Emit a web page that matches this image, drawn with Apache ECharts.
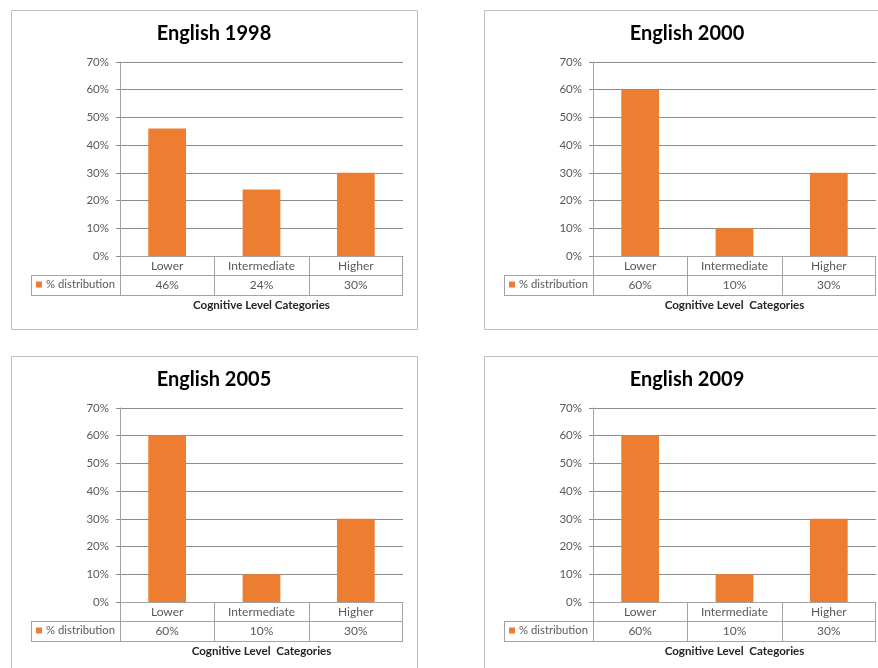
<!DOCTYPE html>
<html>
<head>
<meta charset="utf-8">
<script src="https://cdn.jsdelivr.net/npm/echarts@6/dist/echarts.min.js"></script>
<style>
  html, body { margin: 0; padding: 0; background: #ffffff; overflow: hidden; }
  #chart { width: 878px; height: 668px; }
</style>
</head>
<body>
<div id="chart"></div>
<script>
// ---- data ----
const categories = ['Lower', 'Intermediate', 'Higher'];
const panelTitles = ['English 1998', 'English 2000', 'English 2005', 'English 2009'];
const axisTitles = [
  'Cognitive Level Categories',
  'Cognitive Level  Categories',
  'Cognitive Level  Categories',
  'Cognitive Level  Categories'
];
const seriesName = '% distribution';
const english1998 = [0.46, 0.24, 0.30];
const english2000 = [0.60, 0.10, 0.30];
const english2005 = [0.60, 0.10, 0.30];
const english2009 = [0.60, 0.10, 0.30];
const panelValues = [english1998, english2000, english2005, english2009];
const yMin = 0, yMax = 0.7, yStep = 0.1;

// ---- layout & style ----
const COL_STEP = 473, ROW_STEP = 346;
const PLOT = { left: 120, top: 62, width: 283, height: 194 };
const TABLE_ROW1 = 19, TABLE_ROW2 = 20;
const LEGEND_CELL_W = 89;
const FRAME = { x: 11, y: 10, w: 406, h: 319 };
const FONT = 'Lato, "Open Sans", sans-serif';
const BAR_COLOR = '#ED7D31';
const GRID_COLOR = '#8c8c8c';
const TABLE_COLOR = '#a3a3a3';
const FRAME_COLOR = '#bfbfbf';
const TEXT_COLOR = '#595959';

const pct = v => Math.round(v * 100) + '%';

const grids = [], xAxes = [], yAxes = [], series = [], legends = [], graphics = [];

function hLine(x1, x2, y, color) {
  return { type: 'line', silent: true,
    shape: { x1: x1, y1: y + 0.5, x2: x2, y2: y + 0.5 },
    style: { stroke: color, lineWidth: 1 } };
}
function vLine(x, y1, y2, color) {
  return { type: 'line', silent: true,
    shape: { x1: x + 0.5, y1: y1, x2: x + 0.5, y2: y2 },
    style: { stroke: color, lineWidth: 1 } };
}

panelValues.forEach((values, i) => {
  const col = i % 2, row = Math.floor(i / 2);
  const dx = col * COL_STEP, dy = row * ROW_STEP;
  const l = PLOT.left + dx, t = PLOT.top + dy, w = PLOT.width, h = PLOT.height;
  const y0 = t + h, y1 = y0 + TABLE_ROW1, y2 = y1 + TABLE_ROW2;

  grids.push({ left: l, top: t, width: w, height: h, containLabel: false, outerBoundsMode: 'none' });

  xAxes.push({
    type: 'category', gridIndex: i, data: categories,
    axisLine: { show: true, lineStyle: { color: TABLE_COLOR, width: 1 } },
    axisTick: { show: false },
    axisLabel: {
      margin: 0, interval: 0,
      fontFamily: FONT, fontSize: 12, color: TEXT_COLOR, lineHeight: 19.5,
      formatter: (name, idx) => name + '\n' + pct(values[idx])
    },
    name: axisTitles[i], nameLocation: 'middle', nameGap: 43,
    nameTextStyle: { fontFamily: FONT, fontSize: 11.6, fontWeight: 'bold', color: '#262626' }
  });

  yAxes.push({
    type: 'value', gridIndex: i, min: yMin, max: yMax, interval: yStep,
    axisLine: { show: true, lineStyle: { color: TABLE_COLOR, width: 1 } },
    axisTick: { show: true, length: 4, lineStyle: { color: GRID_COLOR } },
    axisLabel: { margin: 11, fontFamily: FONT, fontSize: 11.5, color: TEXT_COLOR, formatter: v => pct(v) },
    splitLine: { show: true, lineStyle: { color: GRID_COLOR, width: 1 } }
  });

  series.push({
    name: seriesName, type: 'bar', xAxisIndex: i, yAxisIndex: i,
    data: values, barWidth: '40%',
    itemStyle: { color: BAR_COLOR }, emphasis: { disabled: true }
  });

  legends.push({
    data: [seriesName], left: l - LEGEND_CELL_W + 5, top: y1 + 4,
    padding: 0, itemWidth: 6, itemHeight: 6, icon: 'rect', selectedMode: false,
    textStyle: { fontFamily: FONT, fontSize: 11.3, color: TEXT_COLOR, padding: [0, 0, 0, -1] }
  });

  // outer frame of the panel
  graphics.push({ type: 'rect', silent: true,
    shape: { x: FRAME.x + dx + 0.5, y: FRAME.y + dy + 0.5, width: FRAME.w, height: FRAME.h },
    style: { fill: 'none', stroke: FRAME_COLOR, lineWidth: 1 } });

  // panel heading
  graphics.push({ type: 'text', silent: true,
    x: FRAME.x + dx + FRAME.w / 2, y: FRAME.y + dy + 24,
    style: { text: panelTitles[i], fontFamily: FONT, fontSize: 20, fontWeight: 'bold',
      fill: '#000000', align: 'center', verticalAlign: 'middle' } });

  // data table grid below the plot
  graphics.push(hLine(l - LEGEND_CELL_W, l + w, y1, TABLE_COLOR));
  graphics.push(hLine(l - LEGEND_CELL_W, l + w, y2, TABLE_COLOR));
  graphics.push(vLine(l - LEGEND_CELL_W, y1, y2 + 1, TABLE_COLOR));
  for (let k = 0; k <= categories.length; k++) {
    graphics.push(vLine(Math.round(l + (w * k) / categories.length) - (k === categories.length ? 1 : 0), y0, y2 + 1, TABLE_COLOR));
  }
});

const chart = echarts.init(document.getElementById('chart'), null, { renderer: 'canvas' });
chart.setOption({
  animation: false,
  backgroundColor: '#ffffff',
  grid: grids,
  xAxis: xAxes,
  yAxis: yAxes,
  series: series,
  legend: legends,
  graphic: { elements: graphics }
});
</script>
</body>
</html>
